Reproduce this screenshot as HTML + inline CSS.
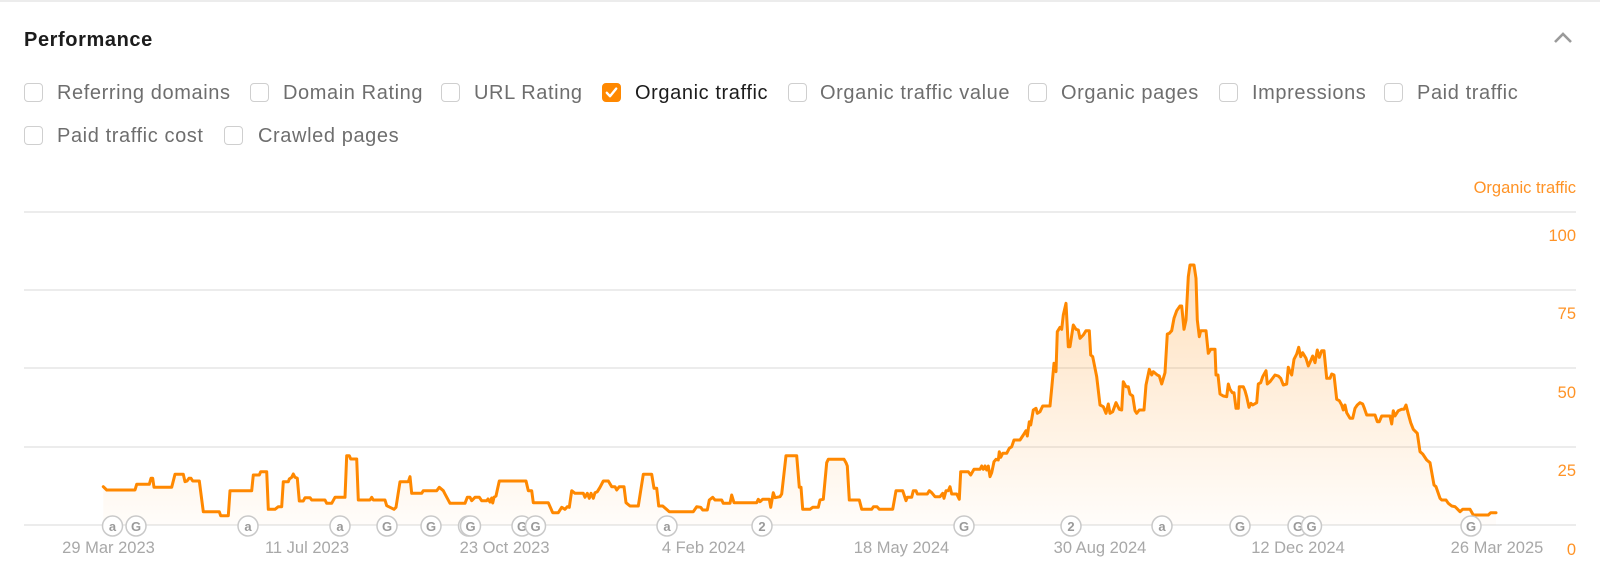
<!DOCTYPE html>
<html>
<head>
<meta charset="utf-8">
<style>
  html,body{margin:0;padding:0;background:#fff;}
  body{width:1600px;height:574px;position:relative;overflow:hidden;font-family:"Liberation Sans",Arial,sans-serif;}
  .topline{position:absolute;left:0;top:0;width:1600px;height:2px;background:#ececec;}
  .title{position:absolute;left:24px;top:27px;height:26px;line-height:26px;font-size:20px;font-weight:bold;color:#1c1c1c;letter-spacing:0.6px;}
  .cb{position:absolute;width:17px;height:17px;border:1.5px solid #cfcfcf;border-radius:4px;background:#fff;}
  .cb.on{background:#ff8800;border-color:#ff8800;}
  .lbl{position:absolute;height:24px;line-height:24px;font-size:20px;color:#6e6e6e;letter-spacing:0.6px;white-space:nowrap;}
  .lbl.on{color:#1c1c1c;}
  .chev{position:absolute;left:1553px;top:31px;}
  svg.chart{position:absolute;left:0;top:0;}
</style>
</head>
<body>
<div class="topline"></div>
<div class="title">Performance</div>
<svg class="chev" width="20" height="14" viewBox="0 0 20 14"><polyline points="2,11 10,3 18,11" fill="none" stroke="#9a9a9a" stroke-width="2.6"/></svg>

<!-- Row 1 -->
<div class="cb" style="left:24px;top:83px;"></div><div class="lbl" style="left:57px;top:81px;">Referring domains</div>
<div class="cb" style="left:250px;top:83px;"></div><div class="lbl" style="left:283px;top:81px;">Domain Rating</div>
<div class="cb" style="left:441px;top:83px;"></div><div class="lbl" style="left:474px;top:81px;">URL Rating</div>
<div class="cb on" style="left:602px;top:83px;"><svg width="17" height="17" viewBox="0 0 17 17" style="position:absolute;left:0;top:0"><polyline points="3.8,8.8 7,12.2 13.2,4.6" fill="none" stroke="#fff" stroke-width="2.4" stroke-linecap="round" stroke-linejoin="round"/></svg></div><div class="lbl on" style="left:635px;top:81px;">Organic traffic</div>
<div class="cb" style="left:788px;top:83px;"></div><div class="lbl" style="left:820px;top:81px;">Organic traffic value</div>
<div class="cb" style="left:1028px;top:83px;"></div><div class="lbl" style="left:1061px;top:81px;">Organic pages</div>
<div class="cb" style="left:1219px;top:83px;"></div><div class="lbl" style="left:1252px;top:81px;">Impressions</div>
<div class="cb" style="left:1384px;top:83px;"></div><div class="lbl" style="left:1417px;top:81px;">Paid traffic</div>
<!-- Row 2 -->
<div class="cb" style="left:24px;top:126px;"></div><div class="lbl" style="left:57px;top:124px;">Paid traffic cost</div>
<div class="cb" style="left:224px;top:126px;"></div><div class="lbl" style="left:258px;top:124px;">Crawled pages</div>

<svg class="chart" width="1600" height="574" viewBox="0 0 1600 574">
  <defs>
    <linearGradient id="fg" gradientUnits="userSpaceOnUse" x1="0" y1="260" x2="0" y2="525">
      <stop offset="0" stop-color="#ff8800" stop-opacity="0.26"/>
      <stop offset="1" stop-color="#ff8800" stop-opacity="0.02"/>
    </linearGradient>
  </defs>
  <g font-family="Liberation Sans, Arial, sans-serif">
    <text x="1576" y="193" text-anchor="end" font-size="16.5" fill="#ff9326">Organic traffic</text>
    <!-- grid -->
    <g stroke="#ececec" stroke-width="2">
      <line x1="24" y1="212" x2="1576" y2="212"/>
      <line x1="24" y1="290" x2="1576" y2="290"/>
      <line x1="24" y1="368" x2="1576" y2="368"/>
      <line x1="24" y1="447" x2="1576" y2="447"/>
      <line x1="24" y1="525" x2="1576" y2="525"/>
    </g>
    <g font-size="16.5" fill="#ff9326" text-anchor="end">
      <text x="1576" y="241">100</text>
      <text x="1576" y="319">75</text>
      <text x="1576" y="398">50</text>
      <text x="1576" y="476">25</text>
      <text x="1576" y="555">0</text>
    </g>
    <g font-size="16.5" fill="#a8a8a8" text-anchor="middle">
      <text x="108.5" y="553">29 Mar 2023</text>
      <text x="307" y="553">11 Jul 2023</text>
      <text x="504.6" y="553">23 Oct 2023</text>
      <text x="703.6" y="553">4 Feb 2024</text>
      <text x="901.5" y="553">18 May 2024</text>
      <text x="1100" y="553">30 Aug 2024</text>
      <text x="1298" y="553">12 Dec 2024</text>
      <text x="1497" y="553">26 Mar 2025</text>
    </g>
  </g>
  <path id="series" fill="url(#fg)" stroke="none" d="M103.3,525 L103.3,486.7 L106.7,490 L135,490 L136.7,484.3 L149.3,484.3 L151,478.3 L152.7,478.3 L154,487.3 L171.7,487.3 L175,474.3 L183.3,474.3 L185,481.7 L187,481 L189,478.3 L191,478.3 L192.7,481 L199.3,481 L203.3,511.7 L219.3,511.7 L220.7,515.7 L228.3,515.7 L230,490.7 L251.7,490.7 L253.3,475 L259.3,475 L260.7,471.7 L266.7,471.7 L268.3,509.3 L275,509.3 L278.3,506.7 L281.7,506.7 L283.3,481.7 L288.3,481.7 L289.3,479 L291.7,477.3 L293.3,474 L295,477.3 L297.3,478.3 L299.3,501 L303.3,501 L305,497.7 L310,497.7 L311.7,500 L325,500 L326.7,503.3 L331.7,503.3 L335,497.3 L345,497.3 L346.7,455.7 L349.3,455.7 L350.7,459 L356.7,459 L358.3,500 L370,500 L371.7,497.3 L373.3,500 L385,500 L386.7,505.7 L390,507.3 L394,509.3 L396,507.3 L400,481.7 L408.3,481.7 L410,476.7 L411.7,493.3 L421.7,493.3 L423.3,490.7 L436.7,490.7 L439.3,487.3 L443.3,490.7 L445,494 L450,503.3 L465,503.3 L467.3,497.3 L470,497.3 L471.7,500.7 L475,497.3 L479.3,497.3 L481.7,500.7 L486.7,500.7 L488,499 L490,502 L491.7,498 L492.7,503 L494,497.3 L496,496 L497.3,490 L499.3,481 L526,481 L528.3,490.7 L531.7,490.7 L533.3,502.7 L548.3,502.7 L552.7,512.7 L558.3,512.7 L561.7,507.3 L565,509.3 L567.3,506.7 L569.3,507.3 L571.7,490.7 L575,493.3 L583.3,493.3 L585,497.3 L587.3,493.3 L589.3,498.3 L591,493.3 L593.3,498.3 L595,492.7 L597.3,491.7 L600,487.3 L603.3,481 L608.3,481 L611.7,486.7 L615,486.7 L616.7,490 L619.3,486.7 L624,486.7 L626,502.7 L630,506 L638.3,506 L640.7,490.7 L643.3,474.3 L651.7,474.3 L654,488.3 L656.7,488.3 L658.7,506 L662.7,506 L669.3,511.7 L693.3,511.7 L696.7,506.7 L700.7,507.3 L702.7,510 L707.3,510 L709.3,500 L712.7,497.3 L715,500 L721.7,500 L723.3,503.3 L730,503.3 L731.7,495 L734,502.7 L756.7,502.7 L758.3,499.3 L760,501.7 L762.7,499.3 L769.3,499.3 L770.7,507.3 L773.3,492.7 L775,497.7 L780,496.7 L781.7,494 L786,455.7 L796.7,455.7 L799.3,487.3 L801,487.3 L802.7,509.3 L810,509.3 L812.7,507.3 L818.3,507.3 L820,500 L823.3,499.3 L826.7,462.7 L828.3,459.3 L844,459.3 L846,462.7 L847.3,466 L849.3,500 L859.3,500 L861.7,509.3 L871.7,509.3 L873.5,506.7 L877,506.7 L879.3,509.3 L892.7,509.3 L896,490.7 L902.7,490.7 L906,500.7 L907.3,497.3 L911.7,497.3 L913.3,490.7 L916,490.7 L917.3,494 L927.3,494 L929.3,490.7 L931.7,492.7 L935,496.7 L940,496.7 L942.7,493.3 L944,498.3 L946,490.7 L948.3,490.7 L950,486.7 L951.7,494 L956.7,494 L959.3,499.3 L960.7,471.7 L968.3,471.7 L970.7,475 L974,469.3 L980,469.3 L981.7,466 L983.3,469.3 L985,466 L986.7,470 L988.3,466 L990,476.7 L991.7,472.7 L994,461.7 L996,459.3 L998.3,460 L999.3,451.7 L1000.7,457.3 L1002.7,453.3 L1006.7,453.3 L1009.3,448.3 L1011.7,446.7 L1014,440 L1020,440 L1023.3,435 L1026,430.7 L1027.3,436 L1029.3,421.7 L1030.7,425 L1033.3,410 L1036,408.3 L1037.3,413.3 L1040,411.7 L1042.7,406 L1050,406 L1051.7,388.3 L1054,363.3 L1056,371.7 L1057.3,331.7 L1060,327.3 L1061.7,329.3 L1063.3,315 L1066,303.3 L1068.3,346.7 L1070,346.7 L1073.3,325 L1076,329.3 L1078.3,330 L1080,338.3 L1083.3,335 L1086,330.7 L1089.3,330.7 L1090.7,355 L1092.7,356.7 L1096.7,376.7 L1100,405 L1103.3,406.7 L1106,413.3 L1108.3,404 L1110,413.3 L1112.7,411.7 L1116,402.7 L1119.3,409.3 L1121.7,410 L1123.3,381.7 L1126,386.7 L1128.3,386.7 L1130,394 L1132.7,396 L1135,410.7 L1136.7,413.3 L1139.3,410 L1144,410 L1146,385 L1149.3,369.3 L1151.7,375 L1153.3,371.7 L1157.3,375 L1159.3,376 L1161.7,384 L1165,372.7 L1167.3,334 L1169.3,333.3 L1171.7,330.7 L1174,318.3 L1176.7,310.7 L1180,306 L1181.7,306 L1184,329.3 L1186,320 L1188.3,276.7 L1190,265 L1194,265 L1196,278.3 L1197.3,320 L1199.3,336.7 L1200.7,330.7 L1206,330.7 L1208.3,353.3 L1210.7,349.3 L1215,349.3 L1216,375 L1218,375 L1220,394 L1223.3,396 L1226.7,396.7 L1228.3,384 L1230,389.3 L1232.3,392.7 L1234,392.7 L1236,408.3 L1238.3,408.3 L1239.3,386.7 L1243.3,386.7 L1245,390.7 L1246.7,396.7 L1249,407.3 L1251,403.3 L1252.7,405 L1256.7,402.7 L1258.3,384 L1260.7,382.7 L1262.7,376.7 L1266,370.7 L1267.3,384 L1270,381.7 L1275,375 L1278.3,376 L1280.7,378.3 L1283.3,385 L1286.7,384 L1288.3,367.3 L1290,371.7 L1291.7,375 L1294,359.3 L1296.7,354 L1298.7,347.3 L1300.7,356.7 L1302.7,352.7 L1306,358.3 L1308.3,366 L1310.7,360.7 L1312.7,356 L1315,362.7 L1317.3,350 L1319.3,357.3 L1321.7,350.7 L1324,350.7 L1326.7,378.3 L1330,378.3 L1331.7,374 L1334,375 L1336.7,399.3 L1339.3,400.7 L1341.7,405 L1343.3,410 L1345,405 L1346.7,412.7 L1350,418.3 L1352.7,418.3 L1355,408.3 L1357.3,405 L1360,402.7 L1362.7,404 L1364,407.3 L1366.7,415 L1375,415 L1377.3,421.7 L1379.3,421.7 L1381.7,416 L1390,416 L1391.7,424 L1393.3,410.7 L1395,416 L1398.3,410.7 L1401.7,409.3 L1404,409.3 L1406,405 L1408.3,414 L1410.7,422.7 L1413.3,429.3 L1417.3,433.3 L1420,451.7 L1422.7,454 L1426.7,460 L1430,462.7 L1434,485 L1436,486.7 L1440,498.3 L1441.7,500 L1446,500 L1448.3,503.3 L1451.7,506 L1455,506.7 L1456.7,508.3 L1460,511.7 L1462.7,509.3 L1470,509.3 L1473.3,515 L1488.3,515 L1490.7,512.7 L1496,512.7 L1496,525 Z"/>
  <path fill="none" stroke="#ff8800" stroke-width="3" stroke-linejoin="round" stroke-linecap="round" d="M103.3,486.7 L106.7,490 L135,490 L136.7,484.3 L149.3,484.3 L151,478.3 L152.7,478.3 L154,487.3 L171.7,487.3 L175,474.3 L183.3,474.3 L185,481.7 L187,481 L189,478.3 L191,478.3 L192.7,481 L199.3,481 L203.3,511.7 L219.3,511.7 L220.7,515.7 L228.3,515.7 L230,490.7 L251.7,490.7 L253.3,475 L259.3,475 L260.7,471.7 L266.7,471.7 L268.3,509.3 L275,509.3 L278.3,506.7 L281.7,506.7 L283.3,481.7 L288.3,481.7 L289.3,479 L291.7,477.3 L293.3,474 L295,477.3 L297.3,478.3 L299.3,501 L303.3,501 L305,497.7 L310,497.7 L311.7,500 L325,500 L326.7,503.3 L331.7,503.3 L335,497.3 L345,497.3 L346.7,455.7 L349.3,455.7 L350.7,459 L356.7,459 L358.3,500 L370,500 L371.7,497.3 L373.3,500 L385,500 L386.7,505.7 L390,507.3 L394,509.3 L396,507.3 L400,481.7 L408.3,481.7 L410,476.7 L411.7,493.3 L421.7,493.3 L423.3,490.7 L436.7,490.7 L439.3,487.3 L443.3,490.7 L445,494 L450,503.3 L465,503.3 L467.3,497.3 L470,497.3 L471.7,500.7 L475,497.3 L479.3,497.3 L481.7,500.7 L486.7,500.7 L488,499 L490,502 L491.7,498 L492.7,503 L494,497.3 L496,496 L497.3,490 L499.3,481 L526,481 L528.3,490.7 L531.7,490.7 L533.3,502.7 L548.3,502.7 L552.7,512.7 L558.3,512.7 L561.7,507.3 L565,509.3 L567.3,506.7 L569.3,507.3 L571.7,490.7 L575,493.3 L583.3,493.3 L585,497.3 L587.3,493.3 L589.3,498.3 L591,493.3 L593.3,498.3 L595,492.7 L597.3,491.7 L600,487.3 L603.3,481 L608.3,481 L611.7,486.7 L615,486.7 L616.7,490 L619.3,486.7 L624,486.7 L626,502.7 L630,506 L638.3,506 L640.7,490.7 L643.3,474.3 L651.7,474.3 L654,488.3 L656.7,488.3 L658.7,506 L662.7,506 L669.3,511.7 L693.3,511.7 L696.7,506.7 L700.7,507.3 L702.7,510 L707.3,510 L709.3,500 L712.7,497.3 L715,500 L721.7,500 L723.3,503.3 L730,503.3 L731.7,495 L734,502.7 L756.7,502.7 L758.3,499.3 L760,501.7 L762.7,499.3 L769.3,499.3 L770.7,507.3 L773.3,492.7 L775,497.7 L780,496.7 L781.7,494 L786,455.7 L796.7,455.7 L799.3,487.3 L801,487.3 L802.7,509.3 L810,509.3 L812.7,507.3 L818.3,507.3 L820,500 L823.3,499.3 L826.7,462.7 L828.3,459.3 L844,459.3 L846,462.7 L847.3,466 L849.3,500 L859.3,500 L861.7,509.3 L871.7,509.3 L873.5,506.7 L877,506.7 L879.3,509.3 L892.7,509.3 L896,490.7 L902.7,490.7 L906,500.7 L907.3,497.3 L911.7,497.3 L913.3,490.7 L916,490.7 L917.3,494 L927.3,494 L929.3,490.7 L931.7,492.7 L935,496.7 L940,496.7 L942.7,493.3 L944,498.3 L946,490.7 L948.3,490.7 L950,486.7 L951.7,494 L956.7,494 L959.3,499.3 L960.7,471.7 L968.3,471.7 L970.7,475 L974,469.3 L980,469.3 L981.7,466 L983.3,469.3 L985,466 L986.7,470 L988.3,466 L990,476.7 L991.7,472.7 L994,461.7 L996,459.3 L998.3,460 L999.3,451.7 L1000.7,457.3 L1002.7,453.3 L1006.7,453.3 L1009.3,448.3 L1011.7,446.7 L1014,440 L1020,440 L1023.3,435 L1026,430.7 L1027.3,436 L1029.3,421.7 L1030.7,425 L1033.3,410 L1036,408.3 L1037.3,413.3 L1040,411.7 L1042.7,406 L1050,406 L1051.7,388.3 L1054,363.3 L1056,371.7 L1057.3,331.7 L1060,327.3 L1061.7,329.3 L1063.3,315 L1066,303.3 L1068.3,346.7 L1070,346.7 L1073.3,325 L1076,329.3 L1078.3,330 L1080,338.3 L1083.3,335 L1086,330.7 L1089.3,330.7 L1090.7,355 L1092.7,356.7 L1096.7,376.7 L1100,405 L1103.3,406.7 L1106,413.3 L1108.3,404 L1110,413.3 L1112.7,411.7 L1116,402.7 L1119.3,409.3 L1121.7,410 L1123.3,381.7 L1126,386.7 L1128.3,386.7 L1130,394 L1132.7,396 L1135,410.7 L1136.7,413.3 L1139.3,410 L1144,410 L1146,385 L1149.3,369.3 L1151.7,375 L1153.3,371.7 L1157.3,375 L1159.3,376 L1161.7,384 L1165,372.7 L1167.3,334 L1169.3,333.3 L1171.7,330.7 L1174,318.3 L1176.7,310.7 L1180,306 L1181.7,306 L1184,329.3 L1186,320 L1188.3,276.7 L1190,265 L1194,265 L1196,278.3 L1197.3,320 L1199.3,336.7 L1200.7,330.7 L1206,330.7 L1208.3,353.3 L1210.7,349.3 L1215,349.3 L1216,375 L1218,375 L1220,394 L1223.3,396 L1226.7,396.7 L1228.3,384 L1230,389.3 L1232.3,392.7 L1234,392.7 L1236,408.3 L1238.3,408.3 L1239.3,386.7 L1243.3,386.7 L1245,390.7 L1246.7,396.7 L1249,407.3 L1251,403.3 L1252.7,405 L1256.7,402.7 L1258.3,384 L1260.7,382.7 L1262.7,376.7 L1266,370.7 L1267.3,384 L1270,381.7 L1275,375 L1278.3,376 L1280.7,378.3 L1283.3,385 L1286.7,384 L1288.3,367.3 L1290,371.7 L1291.7,375 L1294,359.3 L1296.7,354 L1298.7,347.3 L1300.7,356.7 L1302.7,352.7 L1306,358.3 L1308.3,366 L1310.7,360.7 L1312.7,356 L1315,362.7 L1317.3,350 L1319.3,357.3 L1321.7,350.7 L1324,350.7 L1326.7,378.3 L1330,378.3 L1331.7,374 L1334,375 L1336.7,399.3 L1339.3,400.7 L1341.7,405 L1343.3,410 L1345,405 L1346.7,412.7 L1350,418.3 L1352.7,418.3 L1355,408.3 L1357.3,405 L1360,402.7 L1362.7,404 L1364,407.3 L1366.7,415 L1375,415 L1377.3,421.7 L1379.3,421.7 L1381.7,416 L1390,416 L1391.7,424 L1393.3,410.7 L1395,416 L1398.3,410.7 L1401.7,409.3 L1404,409.3 L1406,405 L1408.3,414 L1410.7,422.7 L1413.3,429.3 L1417.3,433.3 L1420,451.7 L1422.7,454 L1426.7,460 L1430,462.7 L1434,485 L1436,486.7 L1440,498.3 L1441.7,500 L1446,500 L1448.3,503.3 L1451.7,506 L1455,506.7 L1456.7,508.3 L1460,511.7 L1462.7,509.3 L1470,509.3 L1473.3,515 L1488.3,515 L1490.7,512.7 L1496,512.7"/>

  <!-- event markers -->
  <g font-family="Liberation Sans, Arial, sans-serif" font-size="13" font-weight="bold" fill="#9a9a9a" text-anchor="middle">
    <g stroke="#c9c9c9" stroke-width="1.5" fill="#fff">
      <circle cx="112.5" cy="526" r="10"/>
      <circle cx="136" cy="526" r="10"/>
      <circle cx="248" cy="526" r="10"/>
      <circle cx="340" cy="526" r="10"/>
      <circle cx="387" cy="526" r="10"/>
      <circle cx="431" cy="526" r="10"/>
      <circle cx="468.5" cy="526" r="10"/>
      <circle cx="470.5" cy="526" r="10"/>
      <circle cx="522" cy="526" r="10"/>
    </g>
    <text x="112.5" y="531">a</text>
    <text x="136" y="531">G</text>
    <text x="248" y="531">a</text>
    <text x="340" y="531">a</text>
    <text x="387" y="531">G</text>
    <text x="431" y="531">G</text>
    <text x="470.5" y="531">G</text>
    <text x="522" y="531">G</text>
    <circle cx="535.5" cy="526" r="10" stroke="#c9c9c9" stroke-width="1.5" fill="#fff"/>
    <text x="535.5" y="531">G</text>
    <g stroke="#c9c9c9" stroke-width="1.5" fill="#fff">
      <circle cx="667" cy="526" r="10"/>
      <circle cx="762" cy="526" r="10"/>
      <circle cx="964" cy="526" r="10"/>
      <circle cx="1071" cy="526" r="10"/>
      <circle cx="1162" cy="526" r="10"/>
      <circle cx="1240" cy="526" r="10"/>
      <circle cx="1298" cy="526" r="10"/>
    </g>
    <text x="667" y="531">a</text>
    <text x="762" y="531">2</text>
    <text x="964" y="531">G</text>
    <text x="1071" y="531">2</text>
    <text x="1162" y="531">a</text>
    <text x="1240" y="531">G</text>
    <text x="1298" y="531">G</text>
    <circle cx="1311.5" cy="526" r="10" stroke="#c9c9c9" stroke-width="1.5" fill="#fff"/>
    <text x="1311.5" y="531">G</text>
    <circle cx="1471" cy="526" r="10" stroke="#c9c9c9" stroke-width="1.5" fill="#fff"/>
    <text x="1471" y="531">G</text>
  </g>
</svg>
</body>
</html>
